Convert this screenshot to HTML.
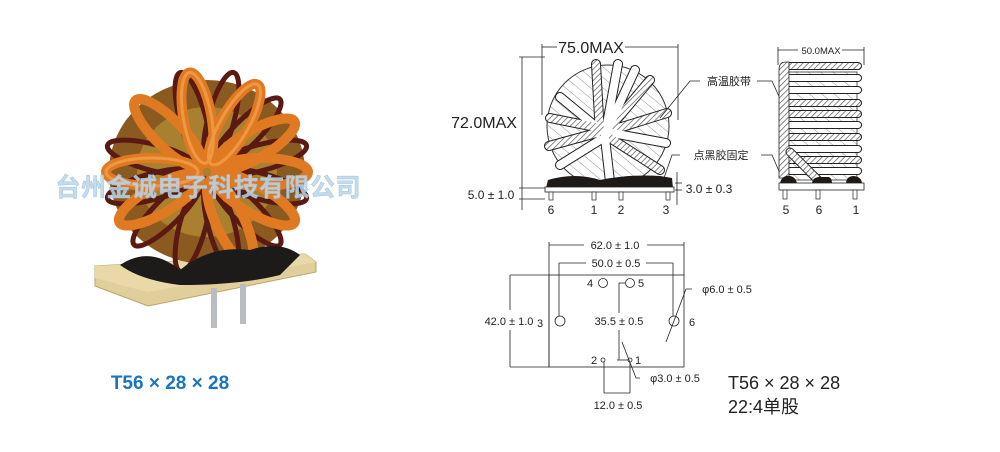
<!DOCTYPE html>
<html><head><meta charset="utf-8"><style>
html,body{margin:0;padding:0;background:#fff;}
svg{display:block;}
text{font-family:"Liberation Sans","Noto Sans CJK SC",sans-serif;}
</style></head><body>
<svg width="1000" height="452" viewBox="0 0 1000 452" xmlns="http://www.w3.org/2000/svg">
<defs>
<pattern id="h" width="4" height="4" patternUnits="userSpaceOnUse" patternTransform="rotate(45)">
<rect width="4" height="4" fill="#fff"/><line x1="0" y1="0" x2="0" y2="4" stroke="#555" stroke-width="1.4"/></pattern>
<pattern id="h2" width="8" height="8" patternUnits="userSpaceOnUse" patternTransform="rotate(-50)">
<rect width="8" height="8" fill="#fff"/><line x1="0" y1="0" x2="0" y2="8" stroke="#777" stroke-width="0.8"/></pattern>
</defs>

<!-- PHOTO -->
<polygon points="95,266 305,254 316,262 316,272 148,306 95,286" fill="#e0cf9a" stroke="#b8a56e"/>
<polygon points="95,266 305,254 316,262 148,292 95,278" fill="#ead9a8"/>
<rect x="211" y="288" width="6" height="40" fill="#b9bcc0"/>
<rect x="240" y="284" width="6" height="40" fill="#b9bcc0"/>
<ellipse cx="207" cy="172" rx="98" ry="92" fill="#8a5a20"/>
<ellipse cx="207" cy="172" rx="70" ry="65" fill="#a88030"/>
<g fill="none" transform="translate(207,172)">
<g stroke="#5a1a12" stroke-width="5">
<ellipse cx="55" cy="0" rx="48" ry="13" transform="rotate(15)"/>
<ellipse cx="55" cy="0" rx="48" ry="13" transform="rotate(45)"/>
<ellipse cx="55" cy="0" rx="48" ry="13" transform="rotate(75)"/>
<ellipse cx="55" cy="0" rx="48" ry="13" transform="rotate(105)"/>
<ellipse cx="55" cy="0" rx="48" ry="13" transform="rotate(135)"/>
<ellipse cx="55" cy="0" rx="48" ry="13" transform="rotate(165)"/>
<ellipse cx="55" cy="0" rx="48" ry="13" transform="rotate(195)"/>
<ellipse cx="55" cy="0" rx="48" ry="13" transform="rotate(225)"/>
<ellipse cx="55" cy="0" rx="48" ry="13" transform="rotate(255)"/>
<ellipse cx="55" cy="0" rx="48" ry="13" transform="rotate(285)"/>
<ellipse cx="55" cy="0" rx="48" ry="13" transform="rotate(315)"/>
<ellipse cx="55" cy="0" rx="48" ry="13" transform="rotate(345)"/>
</g>
<g stroke="#e07a22" stroke-width="10">
<ellipse cx="55" cy="0" rx="46" ry="14" transform="rotate(0)"/>
<ellipse cx="55" cy="0" rx="46" ry="14" transform="rotate(30)"/>
<ellipse cx="55" cy="0" rx="46" ry="14" transform="rotate(65)"/>
<ellipse cx="55" cy="0" rx="46" ry="14" transform="rotate(-60)"/>
<ellipse cx="55" cy="0" rx="46" ry="14" transform="rotate(-100)"/>
<ellipse cx="55" cy="0" rx="46" ry="14" transform="rotate(-135)"/>
<ellipse cx="55" cy="0" rx="46" ry="14" transform="rotate(180)"/>
<ellipse cx="55" cy="0" rx="46" ry="14" transform="rotate(150)"/>
<ellipse cx="55" cy="0" rx="46" ry="14" transform="rotate(-30)"/>
</g>
<g stroke="#f5a550" stroke-width="3" opacity="0.7">
<ellipse cx="55" cy="0" rx="46" ry="14" transform="rotate(-60)"/>
<ellipse cx="55" cy="0" rx="46" ry="14" transform="rotate(180)"/>
<ellipse cx="55" cy="0" rx="46" ry="14" transform="rotate(-100)"/>
</g>
</g>
<path d="M120,265 Q150,245 180,270 Q210,245 250,250 Q280,240 300,255 L280,275 Q240,285 180,285 Q140,280 120,265Z" fill="#1d1a1a"/>
<text x="208" y="196" font-size="25" font-weight="bold" fill="#bcd6ea" fill-opacity="0.85" text-anchor="middle" stroke="#9fc2dc" stroke-width="0.5" textLength="305">台州金诚电子科技有限公司</text>
<text x="170" y="389" font-size="19" font-weight="bold" fill="#1a74c0" text-anchor="middle">T56 × 28 × 28</text>

<!-- FRONT VIEW -->
<g stroke="#222" stroke-width="0.8" fill="none">
<line x1="542" y1="47" x2="557" y2="47"/><line x1="625" y1="47" x2="678" y2="47"/>
<line x1="542" y1="44" x2="542" y2="115"/><line x1="678" y1="44" x2="678" y2="120"/>
<line x1="519" y1="57" x2="545" y2="57"/><line x1="522" y1="57" x2="522" y2="210"/>
<line x1="519" y1="188" x2="545" y2="188"/><line x1="519" y1="199" x2="545" y2="199"/>
<line x1="677" y1="172" x2="677" y2="205"/><line x1="675" y1="183" x2="682" y2="183"/><line x1="675" y1="190" x2="682" y2="190"/>
</g>
<circle cx="608" cy="126" r="61" fill="url(#h2)" stroke="#333" stroke-width="1"/>
<g stroke-linecap="round">
<g stroke="#222" stroke-width="10">
<line x1="600" y1="135" x2="596" y2="64"/><line x1="605" y1="135" x2="618" y2="64"/><line x1="608" y1="130" x2="650" y2="80"/>
<line x1="600" y1="130" x2="560" y2="97"/><line x1="600" y1="128" x2="550" y2="118"/><line x1="600" y1="132" x2="549" y2="146"/>
<line x1="612" y1="130" x2="667" y2="113"/><line x1="612" y1="133" x2="666" y2="143"/><line x1="610" y1="138" x2="660" y2="170"/>
<line x1="600" y1="140" x2="560" y2="165"/><line x1="605" y1="135" x2="635" y2="70"/><line x1="605" y1="138" x2="610" y2="182"/>
</g>
<g stroke-width="8">
<line x1="600" y1="135" x2="596" y2="64" stroke="url(#h)"/><line x1="605" y1="135" x2="618" y2="64" stroke="#fff"/><line x1="608" y1="130" x2="650" y2="80" stroke="url(#h)"/>
<line x1="600" y1="130" x2="560" y2="97" stroke="#fff"/><line x1="600" y1="128" x2="550" y2="118" stroke="url(#h)"/><line x1="600" y1="132" x2="549" y2="146" stroke="url(#h)"/>
<line x1="612" y1="130" x2="667" y2="113" stroke="url(#h)"/><line x1="612" y1="133" x2="666" y2="143" stroke="#fff"/><line x1="610" y1="138" x2="660" y2="170" stroke="url(#h)"/>
<line x1="600" y1="140" x2="560" y2="165" stroke="#fff"/><line x1="605" y1="135" x2="635" y2="70" stroke="#fff"/><line x1="605" y1="138" x2="610" y2="182" stroke="#fff"/>
</g></g>
<path d="M546,188 L548,180 Q575,172 600,180 Q630,174 660,176 L672,178 L673,188Z" fill="#1e1a18"/>
<rect x="545" y="187" width="129" height="5" fill="#fff" stroke="#222" stroke-width="0.8"/>
<g fill="#fff" stroke="#222" stroke-width="0.7">
<rect x="549" y="192" width="4" height="8"/><rect x="592" y="192" width="4" height="8"/><rect x="619" y="192" width="4" height="8"/><rect x="666" y="192" width="4" height="8"/>
</g>
<text x="591" y="53" font-size="16" text-anchor="middle" fill="#222">75.0MAX</text>
<text x="484" y="128" font-size="16" text-anchor="middle" fill="#222">72.0MAX</text>
<text x="491" y="199" font-size="12" text-anchor="middle" fill="#222">5.0 ± 1.0</text>
<text x="709" y="193" font-size="12" text-anchor="middle" fill="#222">3.0 ± 0.3</text>
<g font-size="12" fill="#222" text-anchor="middle">
<text x="551" y="214">6</text><text x="594" y="214">1</text><text x="621" y="214">2</text><text x="666" y="214">3</text>
<text x="786" y="214">5</text><text x="819" y="214">6</text><text x="856" y="214">1</text>
</g>
<text x="729" y="85" font-size="11" text-anchor="middle" fill="#222">高温胶带</text>
<text x="721" y="159" font-size="11" text-anchor="middle" fill="#222">点黑胶固定</text>
<g stroke="#222" stroke-width="0.8" fill="none">
<polyline points="700,81 690,81 660,118"/><polyline points="757,81 772,81 782,103"/>
<polyline points="680,155 672,155 664,178"/><polyline points="761,155 772,155 782,178"/>
</g>

<!-- SIDE VIEW -->
<g stroke="#222" stroke-width="0.8" fill="none">
<line x1="778" y1="47" x2="778" y2="65"/><line x1="864" y1="47" x2="864" y2="65"/>
<line x1="778" y1="50" x2="798" y2="50"/><line x1="842" y1="50" x2="864" y2="50"/>
</g>
<text x="821" y="54" font-size="9.5" text-anchor="middle" fill="#222">50.0MAX</text>
<rect x="785" y="72" width="72" height="108" fill="url(#h2)" stroke="#333" stroke-width="0.8"/>
<g stroke-linecap="round">
<g stroke="#222" stroke-width="8">
<line x1="784" y1="66" x2="858" y2="66"/><line x1="784" y1="78" x2="858" y2="78"/><line x1="784" y1="90" x2="858" y2="90"/>
<line x1="784" y1="103" x2="858" y2="103"/><line x1="784" y1="114" x2="858" y2="114"/><line x1="784" y1="125" x2="858" y2="125"/>
<line x1="784" y1="137" x2="858" y2="137"/><line x1="784" y1="149" x2="858" y2="149"/><line x1="784" y1="160" x2="858" y2="160"/><line x1="784" y1="171" x2="858" y2="171"/>
</g>
<g stroke-width="6">
<line x1="784" y1="66" x2="858" y2="66" stroke="url(#h)"/><line x1="784" y1="78" x2="858" y2="78" stroke="#fff"/><line x1="784" y1="90" x2="858" y2="90" stroke="#fff"/>
<line x1="784" y1="103" x2="858" y2="103" stroke="url(#h)"/><line x1="784" y1="114" x2="858" y2="114" stroke="url(#h)"/><line x1="784" y1="125" x2="858" y2="125" stroke="#fff"/>
<line x1="784" y1="137" x2="858" y2="137" stroke="url(#h)"/><line x1="784" y1="149" x2="858" y2="149" stroke="#fff"/><line x1="784" y1="160" x2="858" y2="160" stroke="url(#h)"/><line x1="784" y1="171" x2="858" y2="171" stroke="#fff"/>
</g></g>
<path d="M779,70 Q779,62 786,62 L789,62 L789,178 L779,178Z" fill="url(#h)" stroke="#222" stroke-width="0.8"/>
<line x1="790" y1="152" x2="818" y2="180" stroke="#222" stroke-width="9" stroke-linecap="round"/>
<line x1="790" y1="152" x2="818" y2="180" stroke="url(#h)" stroke-width="7" stroke-linecap="round"/>
<g fill="#1e1a18"><path d="M780,184 Q781,175 790,176 Q796,177 797,184Z"/><path d="M812,184 Q812,177 820,177 L829,177 Q832,178 832,184Z"/><path d="M846,184 Q846,176 854,176 Q862,177 862,184Z"/></g>
<rect x="779" y="183" width="85" height="7" fill="#fff" stroke="#222" stroke-width="0.8"/>
<g fill="#fff" stroke="#222" stroke-width="0.7">
<rect x="783" y="190" width="4" height="9"/><rect x="816" y="190" width="4" height="9"/><rect x="853" y="190" width="4" height="9"/>
</g>

<!-- BOTTOM FOOTPRINT -->
<g stroke="#222" stroke-width="0.8" fill="none">
<line x1="549" y1="242" x2="549" y2="367"/><line x1="684" y1="242" x2="684" y2="275"/>
<line x1="549" y1="245" x2="584" y2="245"/><line x1="647" y1="245" x2="684" y2="245"/>
<rect x="549" y="275" width="135" height="92"/>
<line x1="559" y1="263" x2="586" y2="263"/><line x1="646" y1="263" x2="673" y2="263"/>
<line x1="559" y1="263" x2="559" y2="316"/><line x1="673" y1="263" x2="673" y2="316"/>
<line x1="510" y1="275" x2="549" y2="275"/><line x1="510" y1="367" x2="549" y2="367"/>
<line x1="510" y1="275" x2="510" y2="310"/><line x1="510" y1="330" x2="510" y2="367"/>
<circle cx="603" cy="283" r="4.5"/><circle cx="630" cy="283" r="4.5"/>
<circle cx="560" cy="321" r="5"/><circle cx="674" cy="321" r="5"/>
<circle cx="603" cy="360" r="2"/><circle cx="630" cy="360" r="2"/>
<line x1="619" y1="283" x2="625" y2="283"/><line x1="619" y1="283" x2="619" y2="313"/><line x1="619" y1="330" x2="619" y2="360"/>
<line x1="617" y1="360" x2="628" y2="360"/>
<polyline points="692,289 686,289 666,342"/>
<polyline points="640,378 636,378 622,342"/>
<line x1="604" y1="362" x2="604" y2="393"/><line x1="630" y1="362" x2="630" y2="393"/><line x1="604" y1="393" x2="630" y2="393"/>
</g>
<g font-size="11" fill="#222" text-anchor="middle">
<text x="615" y="249">62.0 ± 1.0</text>
<text x="616" y="267">50.0 ± 0.5</text>
<text x="509" y="325">42.0 ± 1.0</text>
<text x="540" y="327">3</text><text x="692" y="326">6</text>
<text x="590" y="287">4</text><text x="641" y="287">5</text>
<text x="594" y="364">2</text><text x="638" y="364">1</text>
<text x="619" y="325">35.5 ± 0.5</text>
<text x="675" y="382">φ3.0 ± 0.5</text>
<text x="727" y="293">φ6.0 ± 0.5</text>
<text x="618" y="409">12.0 ± 0.5</text>
</g>
<text x="728" y="389" font-size="18" fill="#222">T56 × 28 × 28</text>
<text x="728" y="413" font-size="18" fill="#222">22:4单股</text>
</svg>
</body></html>
